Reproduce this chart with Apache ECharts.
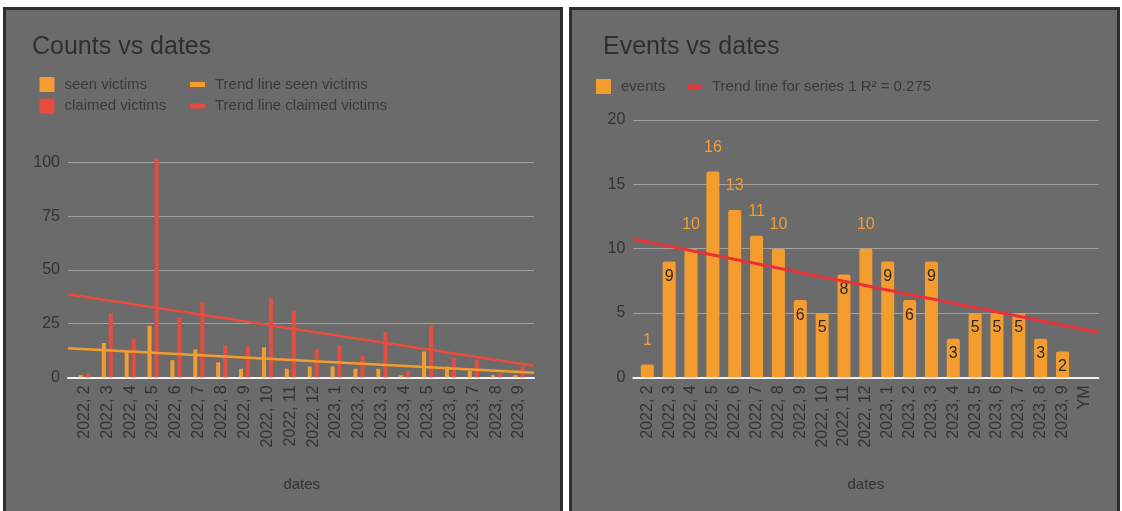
<!DOCTYPE html>
<html>
<head>
<meta charset="utf-8">
<script src="https://cdn.jsdelivr.net/npm/echarts@6/dist/echarts.min.js"></script>
<style>
html, body { margin: 0; padding: 0; background: #ffffff; }
#chart { width: 1122px; height: 511px; }
</style>
</head>
<body>
<div id="chart"></div>
<script>
// data
var dates = ['2022, 2', '2022, 3', '2022, 4', '2022, 5', '2022, 6', '2022, 7', '2022, 8',
    '2022, 9', '2022, 10', '2022, 11', '2022, 12', '2023, 1', '2023, 2', '2023, 3',
    '2023, 4', '2023, 5', '2023, 6', '2023, 7', '2023, 8', '2023, 9'];
var seenVictims = [1, 16, 12, 24, 8, 13, 7, 4, 14, 4, 5, 5, 4, 4, 1, 12, 5, 3, 1, 1];
var claimedVictims = [2, 30, 18, 102, 28, 35, 15, 15, 37, 31, 13, 15, 10, 21, 3, 24, 9, 8, 2, 5];
var events = [1, 9, 10, 16, 13, 11, 10, 6, 5, 8, 10, 9, 6, 9, 3, 5, 5, 5, 3, 2];
var eventDates = dates.concat(['YM']);

// trend lines: value at left edge, value at right edge of the plot
var trendSeen = [13.5, 2.1];
var trendClaimed = [38.7, 5.4];
var trendEvents = [10.75, 3.5];

var countTicks = [0, 25, 50, 75, 100];
var eventTicks = [0, 5, 10, 15, 20];

var orange = '#f59c2f';
var red = '#e74c3c';
var trendRed = '#e6323a';
var font = '"Liberation Sans", Arial, sans-serif';

function categoryAxis(grid, data) {
    return {
        type: 'category',
        gridIndex: grid,
        data: data,
        axisLine: { show: false },
        axisTick: { show: false },
        axisLabel: { rotate: 90, interval: 0, margin: 8, fontSize: 16, color: '#333', fontFamily: font },
        name: 'dates',
        nameLocation: 'middle',
        nameGap: 100,
        nameTextStyle: { fontSize: 15, color: '#333', fontFamily: font }
    };
}

function trendAxis(grid) {
    return {
        type: 'value',
        gridIndex: grid,
        min: 0,
        max: 1,
        axisLine: { show: true, onZero: false, lineStyle: { color: '#f2f2f2', width: 2 } },
        axisTick: { show: false },
        axisLabel: { show: false },
        splitLine: { show: false }
    };
}

function hiddenValueAxis(grid, ticks) {
    return { type: 'value', gridIndex: grid, min: ticks[0], max: ticks[ticks.length - 1], show: false };
}

function valueAxis(grid, ticks) {
    return {
        type: 'value',
        gridIndex: grid,
        min: ticks[0],
        max: ticks[ticks.length - 1],
        interval: ticks[1] - ticks[0],
        axisLine: { show: false },
        axisTick: { show: false },
        axisLabel: { margin: 8, fontSize: 16, color: '#333', fontFamily: font },
        splitLine: { lineStyle: { color: '#a2a2a2', width: 1 } }
    };
}

function legend(names, left, top, iconHeight) {
    return {
        data: names,
        orient: 'vertical',
        left: left,
        top: top,
        padding: 0,
        icon: 'rect',
        itemWidth: 15,
        itemHeight: iconHeight,
        itemGap: 6.5,
        textStyle: { fontSize: 15, lineHeight: 15, color: '#3a3a3a', fontFamily: font, padding: [0, 0, 0, 5] }
    };
}

function trendData(ends) {
    return [[0, ends[0]], [1, ends[1]]];
}

var eventItems = events.map(function (v) {
    var outside = v >= 10 || v < 2;
    return {
        value: v,
        label: outside
            ? { position: 'top', distance: 16, color: orange }
            : { position: 'insideTop', distance: 7, color: '#2b2b2b' }
    };
});

var chart = echarts.init(document.getElementById('chart'));
var option = {
    animation: false,
    backgroundColor: '#ffffff',
    graphic: [
        { type: 'rect', z: -100, silent: true, shape: { x: 4.5, y: 8.5, width: 557, height: 510 },
          style: { fill: '#6b6b6b', stroke: '#2e2e2e', lineWidth: 3 } },
        { type: 'rect', z: -100, silent: true, shape: { x: 570.5, y: 8.5, width: 548, height: 510 },
          style: { fill: '#6b6b6b', stroke: '#2e2e2e', lineWidth: 3 } }
    ],
    title: [
        { text: 'Counts vs dates', left: 32, top: 35, padding: 0,
          textStyle: { fontSize: 25, fontWeight: 'normal', color: '#2f2f2f', fontFamily: font } },
        { text: 'Events vs dates', left: 603, top: 35, padding: 0,
          textStyle: { fontSize: 25, fontWeight: 'normal', color: '#2f2f2f', fontFamily: font } }
    ],
    legend: [
        legend(['seen victims', 'claimed victims'], 39.5, 77, 15),
        legend(['Trend line seen victims', 'Trend line claimed victims'], 190, 77, 5),
        legend(['events'], 596, 79, 15),
        legend(['Trend line for series 1 R² = 0.275'], 687, 79.5, 5)
    ],
    grid: [
        { left: 73, top: 162.7, width: 457.5, height: 214.6 },
        { left: 68, top: 162.7, width: 466, height: 214.6 },
        { left: 636.4, top: 120, width: 458.9, height: 257.3 },
        { left: 633.3, top: 120, width: 465, height: 257.3 }
    ],
    xAxis: [
        categoryAxis(0, dates),
        trendAxis(1),
        categoryAxis(2, eventDates),
        trendAxis(3)
    ],
    yAxis: [
        hiddenValueAxis(0, countTicks),
        valueAxis(1, countTicks),
        hiddenValueAxis(2, eventTicks),
        valueAxis(3, eventTicks)
    ],
    series: [
        { name: 'seen victims', type: 'bar', xAxisIndex: 0, yAxisIndex: 0, data: seenVictims,
          barWidth: 4, barGap: '75%', itemStyle: { color: orange } },
        { name: 'claimed victims', type: 'bar', xAxisIndex: 0, yAxisIndex: 0, data: claimedVictims,
          barWidth: 4, barGap: '75%', clip: false, itemStyle: { color: red } },
        { name: 'Trend line seen victims', type: 'line', xAxisIndex: 1, yAxisIndex: 1,
          data: trendData(trendSeen), symbol: 'none', lineStyle: { color: orange, width: 2.5 }, itemStyle: { color: orange } },
        { name: 'Trend line claimed victims', type: 'line', xAxisIndex: 1, yAxisIndex: 1,
          data: trendData(trendClaimed), symbol: 'none', lineStyle: { color: red, width: 2.5 }, itemStyle: { color: red } },
        { name: 'events', type: 'bar', xAxisIndex: 2, yAxisIndex: 2, data: eventItems,
          barWidth: 13, itemStyle: { color: orange, borderRadius: [2, 2, 0, 0] },
          label: { show: true, fontSize: 16, fontFamily: font } },
        { name: 'Trend line for series 1 R² = 0.275', type: 'line', xAxisIndex: 3, yAxisIndex: 3,
          data: trendData(trendEvents), symbol: 'none', lineStyle: { color: trendRed, width: 3 }, itemStyle: { color: trendRed } }
    ]
};
chart.setOption(option);
</script>
</body>
</html>
